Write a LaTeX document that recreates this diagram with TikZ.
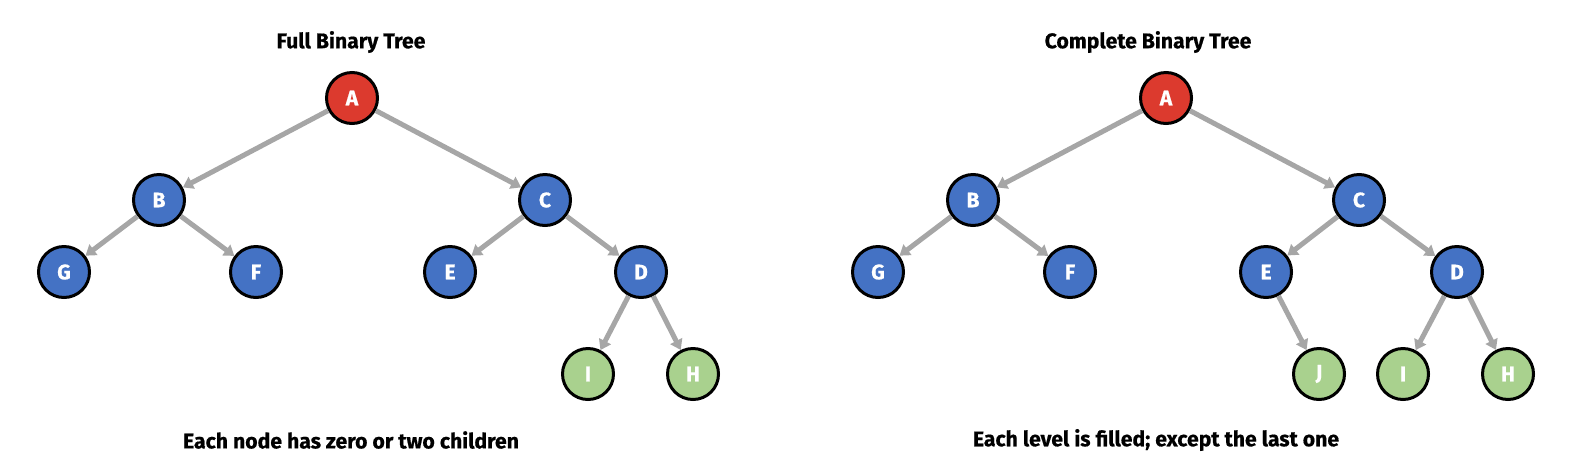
\documentclass[tikz,border=0pt]{standalone}
\usepackage{fontspec}
\setmainfont{Fira Sans}[BoldFeatures={FakeBold=0.6}]
\usetikzlibrary{arrows.meta}
\definecolor{vred}{HTML}{DC3A2E}
\definecolor{vblue}{HTML}{4472C4}
\definecolor{vgreen}{HTML}{A9D18E}
\definecolor{egrey}{HTML}{A6A6A6}
\tikzset{
  vertex/.style={
    shape = circle,
    draw = black,
    line width = 1.5pt,
    minimum size = 25.5pt,
    inner sep = 0pt,
    text = white,
    font = \bfseries\fontsize{10.5}{12}\selectfont
  },
  root/.style={vertex, fill=vred},
  inner/.style={vertex, fill=vblue},
  leaf/.style={vertex, fill=vgreen},
  edge/.style={
    draw = egrey,
    line width = 2.5pt,
    -{Triangle[length=5pt,width=6.5pt]}
  },
  caption/.style={
    font = \bfseries\fontsize{10.6}{12}\selectfont
  }
}
\begin{document}
\begin{tikzpicture}[x=0.5pt,y=-0.5pt]
\useasboundingbox (0,0) rectangle (1572,472);
% full binary tree
\node[caption] (ltitle) at (351,42) {Full Binary Tree};
\node[root] (lA) at (352,98) {A};
\node[inner] (lB) at (159,200) {B};
\node[inner] (lC) at (545,200) {C};
\node[inner] (lG) at (64,272) {G};
\node[inner] (lF) at (256,272) {F};
\node[inner] (lE) at (450,272) {E};
\node[inner] (lD) at (641,272) {D};
\node[leaf] (lI) at (588,374) {I};
\node[leaf] (lH) at (693,374) {H};
\foreach \a/\b in {A/B,A/C,B/G,B/F,C/E,C/D,D/I,D/H}
  \draw[edge] (l\a) -- (l\b);
\node[caption] (lnote) at (351,440) {Each node has zero or two children};
% complete binary tree
\node[caption] (rtitle) at (1148,42) {Complete Binary Tree};
\node[root] (rA) at (1166,98) {A};
\node[inner] (rB) at (973,200) {B};
\node[inner] (rC) at (1359,200) {C};
\node[inner] (rG) at (878,272) {G};
\node[inner] (rF) at (1070,272) {F};
\node[inner] (rE) at (1266,272) {E};
\node[inner] (rD) at (1457,272) {D};
\node[leaf] (rJ) at (1319,374) {J};
\node[leaf] (rI) at (1403,374) {I};
\node[leaf] (rH) at (1508,374) {H};
\foreach \a/\b in {A/B,A/C,B/G,B/F,C/E,C/D,E/J,D/I,D/H}
  \draw[edge] (r\a) -- (r\b);
\node[caption] (rnote) at (1156,440) {Each level is filled; except the last one};
\end{tikzpicture}
\end{document}
